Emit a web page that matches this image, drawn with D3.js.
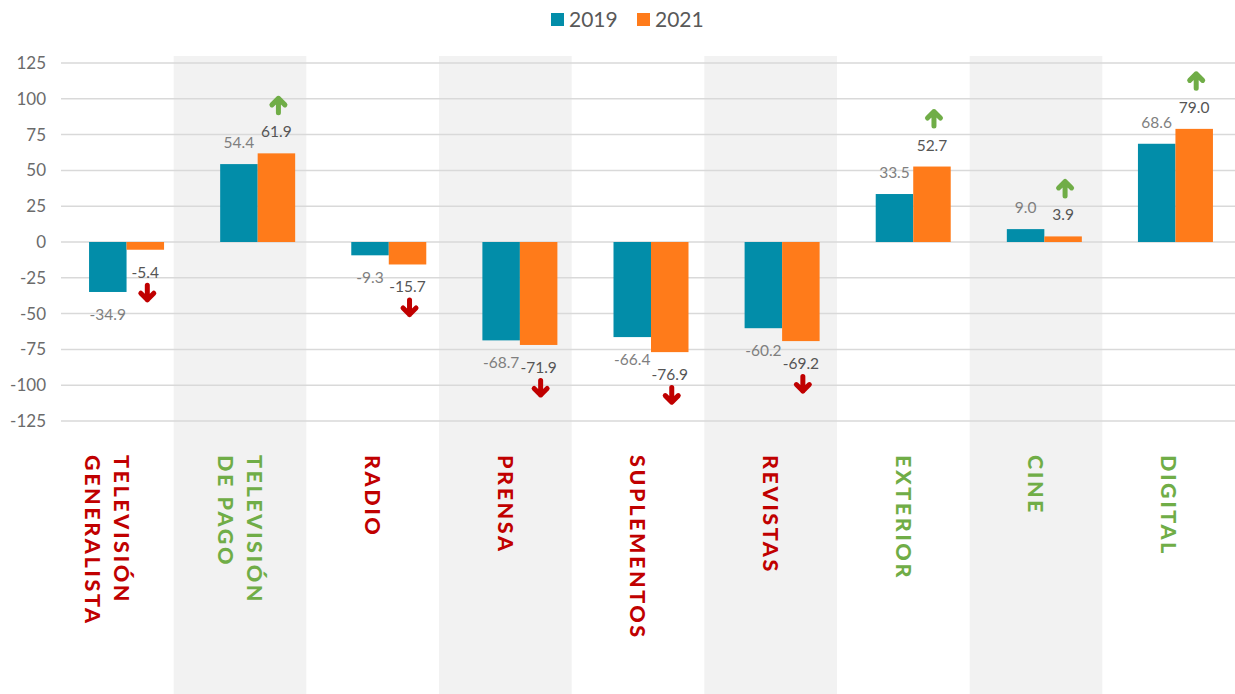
<!DOCTYPE html>
<html>
<head>
<meta charset="utf-8">
<script src="https://cdn.jsdelivr.net/npm/d3@7"></script>
<style>
  body { margin: 0; background: #fff; }
  svg { display: block; font-family: Lato, "Open Sans", sans-serif; }
</style>
</head>
<body>
<div class="d3-chart"></div>
<script>
// data
const categories = ["TELEVISIÓN\nGENERALISTA", "TELEVISIÓN\nDE PAGO", "RADIO", "PRENSA", "SUPLEMENTOS", "REVISTAS", "EXTERIOR", "CINE", "DIGITAL"];
const years = ["2019", "2021"];
const values2019 = [-34.9, 54.4, -9.3, -68.7, -66.4, -60.2, 33.5, 9.0, 68.6];
const values2021 = [-5.4, 61.9, -15.7, -71.9, -76.9, -69.2, 52.7, 3.9, 79.0];
const trend = ["down", "up", "down", "down", "down", "down", "up", "up", "up"];
const yTicks = [-125, -100, -75, -50, -25, 0, 25, 50, 75, 100, 125];

const width = 1235, height = 694;
const colors = {"2019": "#028da9", "2021": "#ff7b1a"};
const trendColor = {up: "#70ad47", down: "#c00000"};

const svg = d3.select(".d3-chart")
  .append("svg")
  .attr("width", width)
  .attr("height", height);

// rows: one per category with both series
const rows = categories.map((c, i) => ({
  cat: c,
  trend: trend[i],
  vals: [{year: "2019", v: values2019[i]}, {year: "2021", v: values2021[i]}]
}));

// category bands (shading + labels)
const xCat = d3.scaleBand()
  .domain(categories)
  .range([41, 1235]);

// bar positions sit a bit to the right of the shading
const xBar = d3.scaleBand()
  .domain(categories)
  .range([61, 1241]);

const groupW = 75;
const inner = d3.scaleBand()
  .domain(years)
  .range([0, groupW]);

const y = d3.scaleLinear()
  .domain([-125, 125])
  .range([421, 63]);

// alternate shading
svg.append("g")
  .selectAll("rect")
  .data(categories.filter((d, i) => i % 2 === 1))
  .join("rect")
  .attr("x", d => xCat(d))
  .attr("y", 56)
  .attr("width", xCat.bandwidth())
  .attr("height", height - 56)
  .attr("fill", "#f2f2f2");

// gridlines
svg.append("g")
  .selectAll("line")
  .data(yTicks)
  .join("line")
  .attr("x1", 61)
  .attr("x2", width)
  .attr("y1", d => y(d))
  .attr("y2", d => y(d))
  .attr("stroke", "#d9d9d9")
  .attr("stroke-width", 1.5);

// y axis labels
const yAxis = svg.append("g")
  .attr("transform", "translate(46,0)")
  .call(d3.axisLeft(y).tickValues(yTicks).tickFormat(d => String(d)).tickSize(0).tickPadding(0));
yAxis.select(".domain").remove();
yAxis.selectAll("text")
  .attr("font-family", "Lato, sans-serif")
  .attr("font-size", 17)
  .attr("fill", "#6b6b6b");

// bars
const groups = svg.append("g")
  .selectAll("g")
  .data(rows)
  .join("g")
  .attr("transform", d => `translate(${xBar(d.cat) + (xBar.bandwidth() - groupW) / 2},0)`);

groups.selectAll("rect")
  .data(d => d.vals)
  .join("rect")
  .attr("x", d => inner(d.year))
  .attr("y", d => y(Math.max(0, d.v)))
  .attr("width", inner.bandwidth())
  .attr("height", d => Math.abs(y(d.v) - y(0)))
  .attr("fill", d => colors[d.year]);

// value labels
groups.selectAll("text")
  .data(d => d.vals)
  .join("text")
  .attr("x", d => inner(d.year) + inner.bandwidth() / 2)
  .attr("y", d => d.v >= 0 ? y(d.v) - 16 : y(d.v) + 28)
  .attr("text-anchor", "middle")
  .attr("font-size", 15.5)
  .attr("fill", d => d.year === "2019" ? "#7f7f7f" : "#555")
  .text(d => d.v.toFixed(1));

// trend arrows over the 2021 bar
groups.append("path")
  .attr("transform", d => {
    const v = d.vals[1].v;
    const cx = inner("2021") + inner.bandwidth() / 2 + 2;
    const cy = v >= 0 ? y(v) - 48 : y(v) + 43;
    return `translate(${cx},${cy})` + (d.trend === "up" ? " rotate(180)" : "");
  })
  .attr("d", "M0,-7.5L0,7M-6.5,0.5L0,7L6.5,0.5")
  .attr("fill", "none")
  .attr("stroke", d => trendColor[d.trend])
  .attr("stroke-width", 5)
  .attr("stroke-linecap", "round")
  .attr("stroke-linejoin", "round");

// category labels, rotated, coloured by trend
const capH = 15.4, lineH = 29;
const catLabels = svg.append("g")
  .selectAll("text")
  .data(rows)
  .join("text")
  .attr("transform", d => `translate(${xCat(d.cat) + xCat.bandwidth() / 2},455) rotate(90)`)
  .attr("font-family", "Lato, sans-serif")
  .attr("font-weight", 900)
  .attr("font-size", 21.5)
  .attr("letter-spacing", 2.6)
  .attr("fill", d => trendColor[d.trend]);

catLabels.each(function(d) {
  const lines = d.cat.split("\n");
  d3.select(this).selectAll("tspan")
    .data(lines)
    .join("tspan")
    .attr("x", 0)
    .attr("y", (l, i) => capH / 2 - ((lines.length - 1) / 2 - i) * lineH)
    .text(l => l);
});

// legend
const legend = svg.append("g")
  .selectAll("g")
  .data(years)
  .join("g")
  .attr("transform", (d, i) => `translate(${551 + i * 86},13)`);

legend.append("rect")
  .attr("width", 13)
  .attr("height", 13)
  .attr("fill", d => colors[d]);

legend.append("text")
  .attr("x", 18)
  .attr("y", 14)
  .attr("font-size", 21)
  .attr("fill", "#595959")
  .text(d => d);
</script>
</body>
</html>
